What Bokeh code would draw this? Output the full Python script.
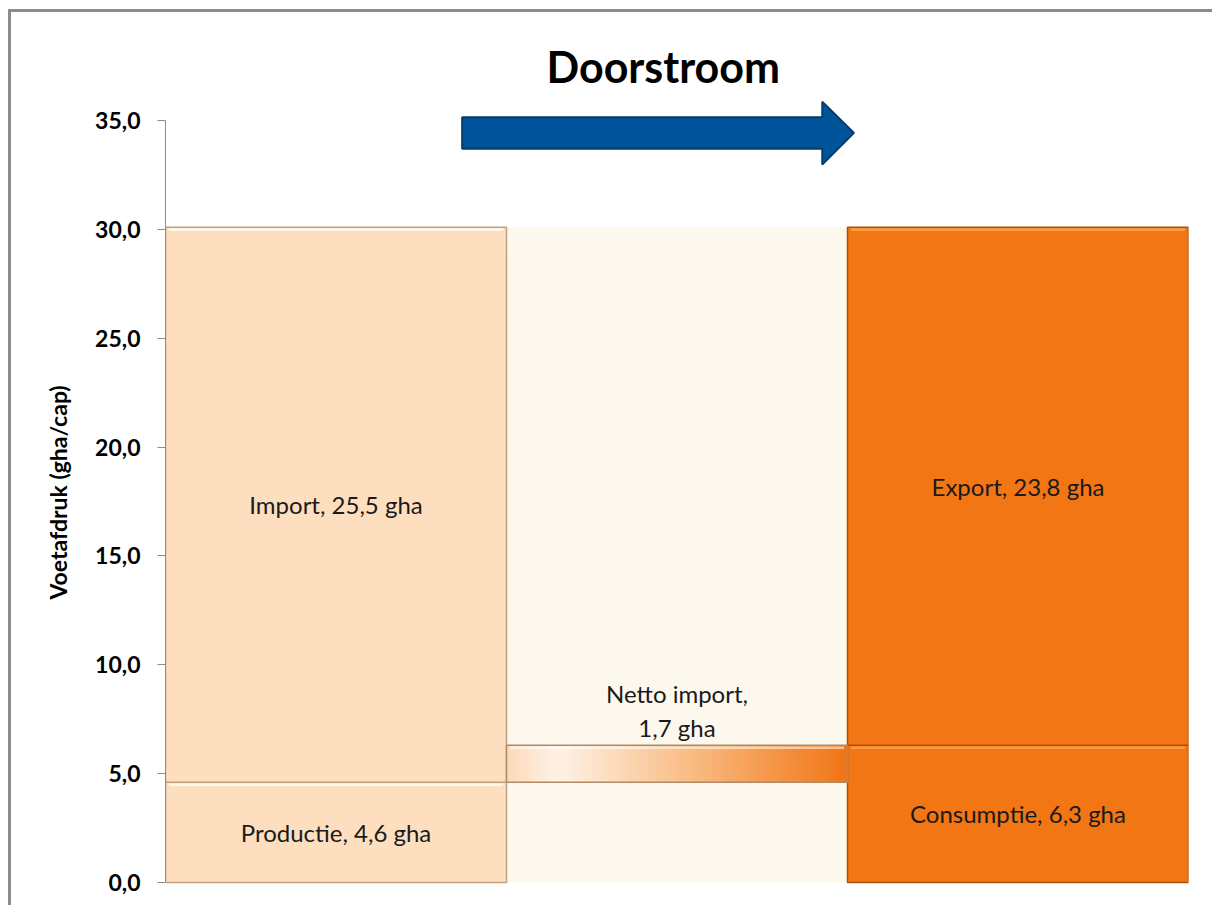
from bokeh.plotting import figure
from bokeh.models import ColumnDataSource, CustomJSTickFormatter, FixedTicker, Range1d
from bokeh.core.properties import value
from bokeh.embed import file_html
from bokeh.resources import INLINE

try:
    from bokeh.models import GlobalInlineStyleSheet, InlineStyleSheet
    extra_sheets = [GlobalInlineStyleSheet(css="html, body { margin: 0; overflow: hidden; }"),
                    InlineStyleSheet(css=":host { overflow: hidden; }")]
except Exception:
    extra_sheets = []

# ---- data ----
title_text = "Doorstroom"
y_label = "Voetafdruk (gha/cap)"
production = 4.6
imports = 25.5
net_import = 1.7
consumption = 6.3
exports = 23.8
y_ticks = [0, 5, 10, 15, 20, 25, 30, 35]

def fmt(v):
    return f"{v:.1f}".replace(".", ",")

# ---- layout constants (page pixels) ----
W, H = 1212, 905
FR_L, FR_R, FR_T, FR_B = 165, 1188, 100, 884
Y0_PX, Y35_PX = 882, 120
PPU = (Y0_PX - Y35_PX) / 35.0
y_start = -(FR_B - Y0_PX) / PPU
y_end = 35 + (Y35_PX - FR_T) / PPU

FONT = "Lato"
PEACH = "#FDDFC0"
PEACH_EDGE = "#BFA080"
ORANGE = "#F27613"
ORANGE_EDGE = "#A9520C"
CREAM = "#FDF8EE"

p = figure(width=W, height=H, output_backend="svg", toolbar_location=None,
           x_range=Range1d(0, 3), y_range=Range1d(y_start, y_end),
           min_border_left=FR_L, min_border_right=W - FR_R,
           min_border_top=FR_T, min_border_bottom=H - FR_B,
           background_fill_color="white", border_fill_color=None,
           styles={"background-color": "white",
                   "box-shadow": "inset 8px 9px 0 0 white, inset 11px 12px 0 0 #8c8c8c"})
if extra_sheets:
    p.stylesheets = extra_sheets
p.outline_line_color = None
p.grid.visible = False
p.xaxis.visible = False

p.title.text = title_text
p.title.text_font = FONT
p.title.text_font_size = "43px"
p.title.text_font_style = "bold"
p.title.text_color = "black"
p.title.align = "left"
p.title.offset = 381
p.title.standoff = 17

# middle column background
total = production + imports
p.quad(left=[1], right=[2], bottom=[0], top=[total], fill_color=CREAM, line_color=None)

# left column: production + import
src_left = ColumnDataSource(dict(left=[0, 0], right=[1, 1],
                                 bottom=[0, production], top=[production, production + imports]))
p.quad(left="left", right="right", bottom="bottom", top="top", source=src_left,
       fill_color=PEACH, line_color=PEACH_EDGE, line_width=1.5)

# right column: consumption + export
src_right = ColumnDataSource(dict(left=[2, 2], right=[3, 3],
                                  bottom=[0, consumption], top=[consumption, consumption + exports]))
p.quad(left="left", right="right", bottom="bottom", top="top", source=src_right,
       fill_color=ORANGE, line_color=ORANGE_EDGE, line_width=1.5)

# highlights (bevel) on top edges
hl = 0.12
p.quad(left=[0.01, 0.01], right=[0.99, 0.99],
       bottom=[production - hl - 0.05, production + imports - hl - 0.05],
       top=[production - 0.05, production + imports - 0.05],
       fill_color="#FFF6EC", line_color=None)
p.quad(left=[2.01, 2.01], right=[2.99, 2.99],
       bottom=[consumption - hl - 0.05, consumption + exports - hl - 0.05],
       top=[consumption - 0.05, consumption + exports - 0.05],
       fill_color="#F99A45", line_color=None)

# net import bar with horizontal gradient
stops = [(0.0, (0xFC, 0xD9, 0xB8)), (0.15, (0xFE, 0xF2, 0xE6)),
         (0.55, (0xF9, 0xBA, 0x80)), (1.0, (0xF0, 0x74, 0x14))]
def grad(t):
    for (t0, c0), (t1, c1) in zip(stops[:-1], stops[1:]):
        if t0 <= t <= t1:
            f = (t - t0) / (t1 - t0)
            return "#%02x%02x%02x" % tuple(int(round(a + (b - a) * f)) for a, b in zip(c0, c1))
    return "#%02x%02x%02x" % stops[-1][1]
N = 80
gl = [1 + i / N for i in range(N)]
gr = [1 + (i + 1) / N + 0.002 for i in range(N)]
gc = [grad((i + 0.5) / N) for i in range(N)]
p.quad(left=gl, right=gr, bottom=[production] * N, top=[production + net_import] * N,
       fill_color=gc, line_color=None)
p.quad(left=[1.01], right=[1.99], bottom=[production + net_import - hl - 0.05],
       top=[production + net_import - 0.05], fill_color="white", fill_alpha=0.55, line_color=None)
p.quad(left=[1], right=[2], bottom=[production], top=[production + net_import],
       fill_color=None, line_color="#B08A68", line_width=1.5)

# labels
lab = ColumnDataSource(dict(
    x=[0.5, 0.5, 2.5, 2.5],
    y=[production / 2, production + imports / 2, consumption / 2, consumption + exports / 2],
    t=[f"Productie, {fmt(production)} gha", f"Import, {fmt(imports)} gha",
       f"Consumptie, {fmt(consumption)} gha", f"Export, {fmt(exports)} gha"]))
p.text(x="x", y="y", text="t", source=lab, text_font=value(FONT), text_font_size="24px",
       text_color="#1a1a1a", text_align="center", text_baseline="middle")
p.text(x=[1.5], y=[production + net_import], text=[f"Netto import,\n{fmt(net_import)} gha"],
       text_font=value(FONT), text_font_size="24px", text_color="#1a1a1a",
       text_align="center", text_baseline="bottom", y_offset=-3, text_line_height=1.2)

# arrow
ax = [0.870, 1.926, 1.926, 2.019, 1.926, 1.926, 0.870]
ay = [35.15, 35.15, 35.86, 34.43, 32.98, 33.70, 33.70]
p.patch(ax, ay, fill_color="#00559A", line_color="#003C6E", line_width=2)

# y axis
p.yaxis.ticker = FixedTicker(ticks=y_ticks)
p.yaxis.bounds = (0, 35)
p.yaxis.formatter = CustomJSTickFormatter(code="return tick.toFixed(1).replace('.', ',');")
p.yaxis.major_label_text_font = FONT
p.yaxis.major_label_text_font_size = "23px"
p.yaxis.major_label_text_font_style = "bold"
p.yaxis.major_label_text_color = "black"
p.yaxis.major_label_standoff = 17
p.yaxis.major_tick_out = 8
p.yaxis.major_tick_in = 0
p.yaxis.minor_tick_out = 0
p.yaxis.minor_tick_in = 0
p.yaxis.axis_line_color = "#8c8c8c"
p.yaxis.major_tick_line_color = "#8c8c8c"
p.yaxis.axis_label = y_label
p.yaxis.axis_label_text_font = FONT
p.yaxis.axis_label_text_font_size = "23px"
p.yaxis.axis_label_text_font_style = "bold"
p.yaxis.axis_label_text_color = "black"
p.yaxis.axis_label_standoff = 20

open("out.html", "w").write(file_html(p, INLINE))
